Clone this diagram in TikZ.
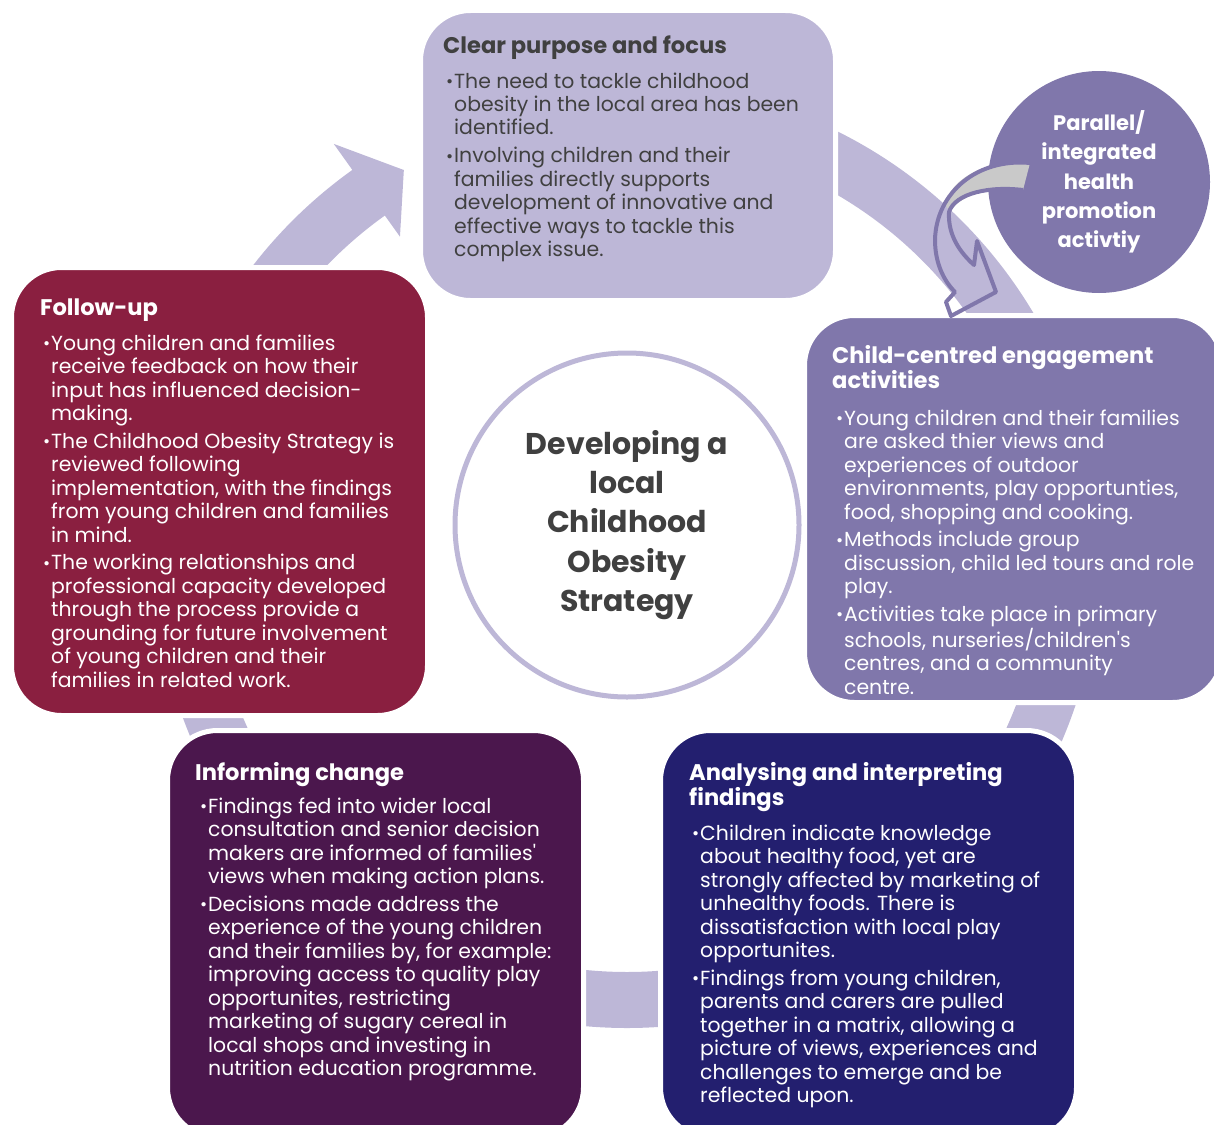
\documentclass[tikz,border=0pt]{standalone}
\usepackage{fontspec}
\setmainfont{Poppins}
\usetikzlibrary{positioning}

\definecolor{lavender}{RGB}{189,183,215}
\definecolor{midpurple}{RGB}{128,119,171}
\definecolor{maroon}{RGB}{138,31,64}
\definecolor{plum}{RGB}{75,23,77}
\definecolor{navy}{RGB}{35,31,111}
\definecolor{darktext}{RGB}{64,64,64}
\definecolor{backgray}{RGB}{201,201,201}

% bullet lists with hanging lines
\newcommand{\bul}{\makebox[8pt][l]{\raisebox{0.5pt}{\scalebox{0.85}{\textbullet}}}}
\newcommand{\blist}[1]{\begin{tabular}[t]{@{}l@{}l@{}}#1\end{tabular}}
\newcommand{\tlines}[1]{\begin{tabular}[t]{@{}l@{}}#1\end{tabular}}

% one curved arrow of the cycle: tail angle, head base angle, tip angle
\newcommand{\ringarrow}[3]{%
  \fill[lavender] ([shift={(#1:473)}]ring) arc[start angle=#1, end angle=#2, radius=473]
    -- ([shift={(#2:505)}]ring) -- ([shift={(#3:445)}]ring) -- ([shift={(#2:391)}]ring)
    -- ([shift={(#2:417)}]ring) arc[start angle=#2, end angle=#1, radius=417] -- cycle;}

\tikzset{
  stagebox/.style={rectangle, rounded corners=50pt, draw=white, line width=5pt, inner sep=0pt},
  titletext/.style={inner sep=0pt, font=\fontsize{22.6}{25}\selectfont\bfseries},
  bodytext/.style={inner sep=0pt, font=\fontsize{20.4}{23.5}\selectfont},
}

\begin{document}
\begin{tikzpicture}[x=1pt, y=-1pt]
    \useasboundingbox (0,0) rectangle (1214,1124);
    \clip (0,0) rectangle (1214,1124);
    \coordinate (ring) at (627,555);

    % cycle arrows
    \ringarrow{-160}{-125.5}{-120.1}
    \ringarrow{-80}{-26}{-20}
    \ringarrow{0}{34}{40}
    \ringarrow{75}{99}{105}
    \ringarrow{135}{165}{171}

    % stages
    \node[stagebox, fill=lavender, minimum width=415pt, minimum height=290pt] (clear) at (628,155.5) {};
    \node[stagebox, fill=maroon, minimum width=416pt, minimum height=448pt] (follow) at (219.5,491.5) {};
    \node[stagebox, fill=midpurple, minimum width=418pt, minimum height=387pt] (engage) at (1013.5,509) {};
    \node[stagebox, fill=plum, minimum width=416pt, minimum height=407pt] (inform) at (375.5,934) {};
    \node[stagebox, fill=navy, minimum width=416pt, minimum height=407pt] (analyse) at (868.5,934) {};

    % centre
    \node[circle, draw=lavender, line width=5pt, fill=white, minimum size=344pt, inner sep=0pt,
          align=center, text=darktext, font=\fontsize{30}{39.3}\selectfont\bfseries] (strategy) at (627,525)
          {Developing a\\local\\Childhood\\Obesity\\Strategy};

    % parallel activity
    \node[circle, fill=midpurple, minimum size=222pt, inner sep=0pt, align=center, text=white,
          font=\fontsize{21}{29.3}\selectfont\bfseries] (parallel) at (1099,182)
          {Parallel/\\integrated\\health\\promotion\\activtiy};
    \fill[backgray] (1030,163) .. controls (985,158) and (950,180) .. (945,205)
        -- (950,212) .. controls (960,195) and (990,186) .. (1023,190) -- cycle;
    \draw[midpurple, line width=4pt, line join=round] (1030,163) .. controls (978,158) and (936,192) .. (935,240)
        .. controls (935,262) and (943,280) .. (955,292) -- (946,302) -- (951,316) -- (996,292)
        -- (977,241) -- (974,265) .. controls (955,248) and (948,230) .. (949,212)
        .. controls (955,193) and (990,186) .. (1023,190);

    % texts
    \node[titletext, text=darktext, anchor=base west] (clear-title) at (443,53) {Clear purpose and focus};
    \node[bodytext, text=darktext, anchor=base west] (clear-list) at (446,88) {\blist{
      \bul & The need to tackle childhood\\
      & obesity in the local area has been\\
      & identified.\\[4pt]
      \bul & Involving children and their\\
      & families directly supports\\
      & development of innovative and\\
      & effective ways to tackle this\\
      & complex issue.}};

    \node[titletext, text=white, anchor=base west] (follow-title) at (40,315) {Follow-up};
    \node[bodytext, text=white, anchor=base west] (follow-list) at (43,350) {\blist{
      \bul & Young children and families\\
      & receive feedback on how their\\
      & input has influenced decision-\\
      & making.\\[4pt]
      \bul & The Childhood Obesity Strategy is\\
      & reviewed following\\
      & implementation, with the findings\\
      & from young children and families\\
      & in mind.\\[4pt]
      \bul & The working relationships and\\
      & professional capacity developed\\
      & through the process provide a\\
      & grounding for future involvement\\
      & of young children and their\\
      & families in related work.}};

    \node[titletext, text=white, anchor=base west] (engage-title) at (832,363)
      {\tlines{Child-centred engagement\\activities}};
    \node[bodytext, text=white, anchor=base west] (engage-list) at (836,425) {\blist{
      \bul & Young children and their families\\
      & are asked thier views and\\
      & experiences of outdoor\\
      & environments, play opportunties,\\
      & food, shopping and cooking.\\[4pt]
      \bul & Methods include group\\
      & discussion, child led tours and role\\
      & play.\\[4pt]
      \bul & Activities take place in primary\\
      & schools, nurseries/children\textquotesingle s\\
      & centres, and a community\\
      & centre.}};

    \node[titletext, text=white, anchor=base west] (inform-title) at (195,780) {Informing change};
    \node[bodytext, text=white, anchor=base west] (inform-list) at (200,813) {\blist{
      \bul & Findings fed into wider local\\
      & consultation and senior decision\\
      & makers are informed of families\textquotesingle\\
      & views when making action plans.\\[4pt]
      \bul & Decisions made address the\\
      & experience of the young children\\
      & and their families by, for example:\\
      & improving access to quality play\\
      & opportunites, restricting\\
      & marketing of sugary cereal in\\
      & local shops and investing in\\
      & nutrition education programme.}};

    \node[titletext, text=white, anchor=base west] (analyse-title) at (689,780)
      {\tlines{Analysing and interpreting\\findings}};
    \node[bodytext, text=white, anchor=base west] (analyse-list) at (692,840) {\blist{
      \bul & Children indicate knowledge\\
      & about healthy food, yet are\\
      & strongly affected by marketing of\\
      & unhealthy foods. There is\\
      & dissatisfaction with local play\\
      & opportunites.\\[4pt]
      \bul & Findings from young children,\\
      & parents and carers are pulled\\
      & together in a matrix, allowing a\\
      & picture of views, experiences and\\
      & challenges to emerge and be\\
      & reflected upon.}};
\end{tikzpicture}
\end{document}
